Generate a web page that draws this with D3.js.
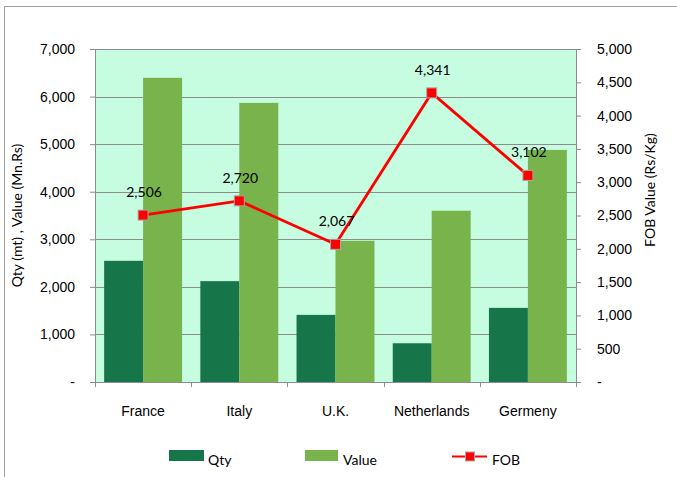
<!DOCTYPE html>
<html>
<head>
<meta charset="utf-8">
<script src="https://cdn.jsdelivr.net/npm/d3@7"></script>
<style>
  body { margin: 0; background: #fff; }
  svg { font-family: Lato, "Open Sans", sans-serif; }
</style>
</head>
<body>
<svg id="chart" width="677" height="477"></svg>
<script>
// data
const countries = ['France', 'Italy', 'U.K.', 'Netherlands', 'Germeny'];
const qty = [2547, 2120, 1411, 814, 1558];
const value = [6394, 5867, 2968, 3600, 4878];
const fob = [2506, 2720, 2067, 4341, 3102];
const leftTicks = [0, 1000, 2000, 3000, 4000, 5000, 6000, 7000];
const rightTicks = [0, 500, 1000, 1500, 2000, 2500, 3000, 3500, 4000, 4500, 5000];

const colQty = '#17754a', colVal = '#78b34c', colFob = '#ff0000';
const fmt = d => d === 0 ? '-' : d3.format(',')(d);
const fs = '14px';

const svg = d3.select('#chart');
const m = { left: 95, right: 576, top: 49, bottom: 382 };

// outer chart frame
svg.append('rect')
  .attr('x', 4.5).attr('y', 6.5)
  .attr('width', 700).attr('height', 500)
  .attr('fill', 'none').attr('stroke', '#a0a0a0');

const x0 = d3.scaleBand().domain(countries)
  .range([m.left, m.right]).paddingInner(0.19).paddingOuter(0.095);
const x1 = d3.scaleBand().domain(['qty', 'value'])
  .range([0, x0.bandwidth()]);
const yL = d3.scaleLinear().domain([0, 7000]).range([m.bottom, m.top]);
const yR = d3.scaleLinear().domain([0, 5000]).range([m.bottom, m.top]);

// plot background
svg.append('rect')
  .attr('x', m.left).attr('y', m.top)
  .attr('width', m.right - m.left).attr('height', m.bottom - m.top)
  .attr('fill', '#c6fce0');

// gridlines
svg.append('g').selectAll('line')
  .data(leftTicks.slice(1))
  .join('line')
  .attr('x1', m.left).attr('x2', m.right)
  .attr('y1', d => Math.round(yL(d)) + 0.5).attr('y2', d => Math.round(yL(d)) + 0.5)
  .attr('stroke', '#8c8c8c').attr('stroke-width', 1);

// bars
const groups = svg.append('g').selectAll('g')
  .data(countries)
  .join('g')
  .attr('transform', d => 'translate(' + x0(d) + ',0)');

groups.append('rect')
  .attr('x', x1('qty')).attr('width', x1.bandwidth())
  .attr('y', (d, i) => yL(qty[i]))
  .attr('height', (d, i) => yL(0) - yL(qty[i]))
  .attr('fill', colQty);

groups.append('rect')
  .attr('x', x1('value')).attr('width', x1.bandwidth())
  .attr('y', (d, i) => yL(value[i]))
  .attr('height', (d, i) => yL(0) - yL(value[i]))
  .attr('fill', colVal);

// axes
const axisStyle = g => {
  g.selectAll('.domain').attr('stroke', '#8c8c8c');
  g.selectAll('.tick line').attr('stroke', '#8c8c8c');
  g.selectAll('.tick text').attr('fill', '#000').style('font-size', fs);
};

svg.append('g')
  .attr('transform', 'translate(' + m.left + ',0)')
  .call(d3.axisLeft(yL).tickValues(leftTicks).tickFormat(fmt).tickSize(5).tickSizeOuter(0).tickPadding(15))
  .call(axisStyle);

svg.append('g')
  .attr('transform', 'translate(' + m.right + ',0)')
  .call(d3.axisRight(yR).tickValues(rightTicks).tickFormat(fmt).tickSize(5).tickSizeOuter(0).tickPadding(16))
  .call(axisStyle)
  .selectAll('.tick text').attr('text-anchor', 'start');

const xAx = svg.append('g')
  .attr('transform', 'translate(0,' + m.bottom + ')')
  .call(d3.axisBottom(x0).tickSize(0).tickSizeOuter(0).tickPadding(24))
  .call(axisStyle);
// category boundary ticks
xAx.selectAll('line.sep')
  .data(d3.range(countries.length + 1))
  .join('line').attr('class', 'sep')
  .attr('x1', i => Math.round(m.left + i * x0.step()) + 0.5)
  .attr('x2', i => Math.round(m.left + i * x0.step()) + 0.5)
  .attr('y1', 0).attr('y2', 5)
  .attr('stroke', '#8c8c8c');

// axis titles
svg.append('text')
  .attr('transform', 'translate(22,' + (m.top + m.bottom) / 2 + ') rotate(-90)')
  .attr('text-anchor', 'middle')
  .style('font-size', fs)
  .text('Qty  (mt) , Value (Mn.Rs)');

svg.append('text')
  .attr('transform', 'translate(655,190) rotate(-90)')
  .attr('text-anchor', 'middle')
  .style('font-size', fs)
  .text('FOB Value (Rs/Kg)');

// FOB line
const cx = d => x0(d) + x0.bandwidth() / 2;
const line = d3.line().x((d, i) => cx(countries[i])).y(d => yR(d));
svg.append('path')
  .datum(fob)
  .attr('d', line)
  .attr('fill', 'none').attr('stroke', colFob).attr('stroke-width', 2.8);

svg.append('g').selectAll('rect')
  .data(fob)
  .join('rect')
  .attr('x', (d, i) => cx(countries[i]) - 5)
  .attr('y', d => yR(d) - 5)
  .attr('width', 10).attr('height', 10)
  .attr('fill', colFob).attr('stroke', '#a6a6a6').attr('stroke-width', 1);

svg.append('g').selectAll('text')
  .data(fob)
  .join('text')
  .attr('x', (d, i) => cx(countries[i]) + 1)
  .attr('y', d => yR(d) - 18)
  .attr('text-anchor', 'middle')
  .style('font-size', fs)
  .text(d => d3.format(',')(d));

// legend
const leg = svg.append('g').style('font-size', fs);
leg.append('rect').attr('x', 169).attr('y', 450).attr('width', 35).attr('height', 11).attr('fill', colQty);
leg.append('text').attr('x', 208).attr('y', 465).text('Qty');
leg.append('rect').attr('x', 305).attr('y', 450).attr('width', 33).attr('height', 11).attr('fill', colVal);
leg.append('text').attr('x', 343).attr('y', 465).text('Value');
leg.append('line').attr('x1', 452).attr('x2', 487).attr('y1', 456.5).attr('y2', 456.5)
  .attr('stroke', colFob).attr('stroke-width', 2);
leg.append('rect').attr('x', 465.5).attr('y', 452).attr('width', 9).attr('height', 9)
  .attr('fill', colFob).attr('stroke', '#a6a6a6');
leg.append('text').attr('x', 492).attr('y', 465).text('FOB');
</script>
</body>
</html>
